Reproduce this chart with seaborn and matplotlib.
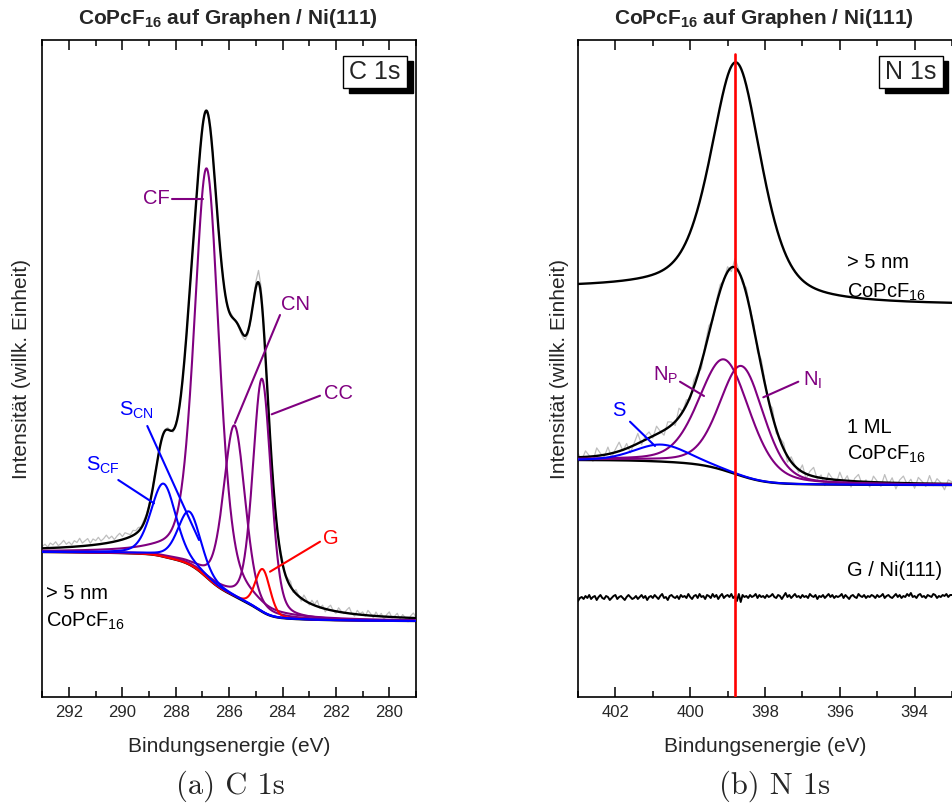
import numpy as np
import matplotlib
matplotlib.use("Agg")
import matplotlib.pyplot as plt
import seaborn as sns
from matplotlib.patches import Rectangle
from matplotlib.ticker import MultipleLocator

# ---------------------------------------------------------------- data
# C 1s panel: binding energy (eV), intensity (arb. units)
c_bg_low, c_bg_high = 76, 145
# envelope of the measured spectrum (fit sum)
c_env_center = [288.45, 287.50, 286.84, 285.68, 284.85]
c_env_height = [78, 50, 430, 162, 262]
c_env_fwhm = [0.80, 0.90, 1.25, 1.05, 0.85]
c_env_eta = [0.2, 0.5, 0.6, 0.5, 0.5]

c_comp_name = ["S_CF", "S_CN", "CF", "CN", "CC", "G"]
c_comp_center = [288.46, 287.49, 286.84, 285.80, 284.77, 284.74]
c_comp_height = [73, 53, 409, 171, 233, 43]
c_comp_fwhm = [1.10, 1.00, 1.10, 0.95, 0.80, 0.65]
c_comp_eta = [0.3, 0.3, 0.4, 0.3, 0.3, 0.2]
c_comp_color = ["#0000FF", "#0000FF", "#800080", "#800080", "#800080", "#FF0000"]

# measured-minus-fit residuals, 293 -> 279 eV in 0.1 eV steps
c_raw_resid = [2, 4, 1, 5, 3, 6, 2, 4, 7, 3, 5, 2, 6, 4, 8, 3, 5, 7, 2, 6,
               4, 7, 3, 5, 8, 4, 6, 2, 5, 7, 3, 6, 4, 2, 5, 3, 4, 1, 3, 2,
               2, 1, 3, 0, 2, -1, 1, 2, 0, -2, 1, -1, 2, 0, 1, -1, 0, 1, -1, 0,
               1, 0, -1, 2, 1, 0, -2, 1, 0, -1, 1, 2, 0, -1, -2, -3, -4, -3, -1, 1,
               6, 12, 9, 3, -2, 2, -1, 3, -2, 2, 4, -1, 3, 5, -2, 4, 1, -3, 5, 2,
               -2, 4, 1, 6, -1, 3, -3, 2, 5, 0, -2, 4, 1, -1, 3, 6, 0, -2, 4, 1,
               3, -1, 5, 2, -2, 4, 0, 3, -3, 2, 5, -1, 1, 4, -2, 3, 0, -4, 2, 5,
               1]

# N 1s panel
n_thick_bg_low, n_thick_bg_high = 392, 409
n_thick_center, n_thick_height, n_thick_fwhm, n_thick_eta = 398.77, 234, 1.6, 0.5

n_ml_bg_low, n_ml_bg_high = 212, 237
n_comp_name = ["S", "N_P", "N_I"]
n_comp_center = [400.77, 399.08, 398.62]
n_comp_height = [17, 111, 110]
n_comp_fwhm = [1.7, 1.6, 1.4]
n_comp_eta = [0.2, 0.3, 0.3]
n_comp_color = ["#0000FF", "#800080", "#800080"]

# 1 ML residuals, 403 -> 393 eV in 0.1 eV steps
n_ml_resid = [4, -3, 6, 1, -5, 8, 2, -2, 7, -4, 3, 9, -1, 5, -6, 2, 10, -3, 4, 6,
              -2, 8, 1, -5, 6, 3, -4, 9, 0, 5, -3, 7, 2, -6, 4, 8, -2, 3, 6, -1,
              5, -4, 9, 2, -3, 6, 1, 4, -5, 7, 3, -2, 8, -4, 2, 6, -6, 5, 1, -3,
              7, -5, 4, 9, -2, 3, -7, 6, 1, -4, 8, -1, 5, -6, 3, 7, -3, 2, -5, 6,
              1, -4, 8, -2, 5, -6, 3, 7, -1, 4, -5, 6, 2, -3, 8, -2, 5, 1, -6, 4, 2]

# G / Ni(111) reference spectrum, 403 -> 393 eV in 0.05 eV steps
n_gni_level = 99
n_gni_resid = [-3, 0, 1, -1, 2, 0, 3, -1, 1, 2, -2, 1, 3, 0, -1, 2, 1, -2, 0, 2,
               3, -1, 1, 2, 0, -2, 1, 3, 1, -1, 0, 2, -1, 1, 3, 0, 2, -2, 1, 2,
               0, 3, 1, -1, 2, 4, 0, 1, -2, 2, 3, 1, 0, 2, -1, 3, 1, 2, 0, 4,
               1, -1, 2, 3, 0, 4, 1, 2, -1, 3, 2, 0, 4, 1, 3, -1, 2, 4, 0, 2,
               3, 1, 4, 0, 2, -3, 4, -4, 3, 1, 2, 0, 3, 1, 2, 4, 0, 3, 1, 2,
               0, 3, 1, 2, 4, 1, 0, 3, 2, -1, 2, 5, 1, 3, 0, 2, 4, 1, 2, 0,
               3, 1, 2, 0, 4, 2, 1, 3, -1, 2, 1, 3, 0, 2, 4, 1, 3, 0, 2, 1,
               2, 4, 0, 3, 1, -1, 2, 3, 1, 0, 4, 2, 1, 3, 0, 2, 1, 3, 2, 0,
               3, 1, 2, 4, 0, 2, 3, 1, 0, 2, 4, 1, 3, 0, 2, 1, 4, 2, 5, 1,
               2, 0, 3, 4, 1, 2, 0, 3, 2, 1, 4, 3, 0, 2, 1, 3, 2, 4, 1, 3,
               3]
n_marker_energy = 398.8

title_text = r"CoPcF$_\mathbf{16}$ auf Graphen / Ni(111)"
xlabel_text = "Bindungsenergie (eV)"
ylabel_text = "Intensität (willk. Einheit)"


# ---------------------------------------------------------------- helpers
def pseudo_voigt(x, c, h, w, eta):
    d = (x - c) / w
    return h * (eta / (1 + 4 * d ** 2) + (1 - eta) * np.exp(-4 * np.log(2) * d ** 2))


def shirley(signal, low, high):
    cum = np.cumsum(signal)          # x ascending: low BE -> high BE
    return low + (high - low) * cum / cum[-1]


# ---------------------------------------------------------------- style
sns.set_theme(style="ticks")
plt.rcParams["font.family"] = ["Liberation Sans", "DejaVu Sans"]
plt.rcParams["mathtext.fontset"] = "custom"
plt.rcParams["mathtext.rm"] = "Liberation Sans"
plt.rcParams["mathtext.it"] = "Liberation Sans:italic"
plt.rcParams["mathtext.bf"] = "Liberation Sans:bold"

W, H = 952, 805
fig = plt.figure(figsize=(W / 100, H / 100), dpi=100)

AX_TOP, AX_BOT = 40, 697
axL_x0, axL_x1 = 42.3, 416.0
axR_x0, axR_x1 = 578.0, 952.0
axL = fig.add_axes([axL_x0 / W, 1 - AX_BOT / H, (axL_x1 - axL_x0) / W, (AX_BOT - AX_TOP) / H])
axR = fig.add_axes([axR_x0 / W, 1 - AX_BOT / H, (axR_x1 - axR_x0) / W, (AX_BOT - AX_TOP) / H])

LW_BLACK, LW_COMP = 1.7, 1.5


def line(ax, x, y, color, lw, z=2):
    sns.lineplot(x=x, y=y, ax=ax, color=color, linewidth=lw, legend=False,
                 estimator=None, zorder=z)


# ---------------------------------------------------------------- C 1s
xc = np.linspace(279.0, 293.0, 1401)
env = sum(pseudo_voigt(xc, c, h, w, e) for c, h, w, e in
          zip(c_env_center, c_env_height, c_env_fwhm, c_env_eta))
bg_c = shirley(env, c_bg_low, c_bg_high)
total_c = bg_c + env
raw_c = total_c[::10] + np.array(c_raw_resid[::-1])

line(axL, xc[::10], raw_c, "#BEBEBE", 0.9, 1)
line(axL, xc, total_c, "black", LW_BLACK, 2)
line(axL, xc, bg_c, "black", LW_BLACK, 2)
order = [2, 3, 4, 5, 0, 1]
for i in order:
    comp = pseudo_voigt(xc, c_comp_center[i], c_comp_height[i], c_comp_fwhm[i], c_comp_eta[i])
    line(axL, xc, bg_c + comp, c_comp_color[i], LW_COMP, 3)

# ---------------------------------------------------------------- N 1s
xn = np.linspace(393.0, 403.0, 1001)
thick = pseudo_voigt(xn, n_thick_center, n_thick_height, n_thick_fwhm, n_thick_eta)
thick_total = shirley(thick, n_thick_bg_low, n_thick_bg_high) + thick

comps_n = [pseudo_voigt(xn, c, h, w, e) for c, h, w, e in
           zip(n_comp_center, n_comp_height, n_comp_fwhm, n_comp_eta)]
sum_n = sum(comps_n)
bg_n = shirley(sum_n, n_ml_bg_low, n_ml_bg_high)
total_n = bg_n + sum_n
raw_n = total_n[::10] + np.array(n_ml_resid[::-1])
gni = n_gni_level + np.array(n_gni_resid[::-1])

line(axR, xn[::10], raw_n, "#BEBEBE", 0.9, 1)
line(axR, xn, thick_total, "black", LW_BLACK, 2)
line(axR, xn, total_n, "black", LW_BLACK, 2)
line(axR, xn, bg_n, "black", LW_BLACK, 2)
for i in [1, 2, 0]:
    line(axR, xn, bg_n + comps_n[i], n_comp_color[i], LW_COMP, 3)
line(axR, xn[::5], gni, "black", 1.4, 2)
axR.axvline(n_marker_energy, ymin=0, ymax=(AX_BOT - 54) / (AX_BOT - AX_TOP),
            color="#FF0000", linewidth=1.9, zorder=4)

# ---------------------------------------------------------------- axes styling
for ax, xlim in [(axL, (293, 279)), (axR, (403, 393))]:
    ax.set_xlim(*xlim)
    ax.set_ylim(0, AX_BOT - AX_TOP)
    ax.set_yticks([])
    ax.xaxis.set_major_locator(MultipleLocator(2))
    ax.xaxis.set_minor_locator(MultipleLocator(1))
    ax.tick_params(axis="x", which="both", direction="in", top=True, bottom=True,
                   labelsize=12, pad=6, width=1.1, color="black")
    ax.tick_params(axis="x", which="major", length=7)
    ax.tick_params(axis="x", which="minor", length=4)
    for s in ax.spines.values():
        s.set_linewidth(1.2)
        s.set_color("black")
    ax.set_xlabel(xlabel_text, fontsize=15)
    ax.set_ylabel(ylabel_text, fontsize=15)
    ax.set_facecolor("white")
axR.spines["right"].set_visible(False)

axL.xaxis.set_label_coords(0.5, -(737 - AX_BOT) / (AX_BOT - AX_TOP))
axR.xaxis.set_label_coords(0.5, -(737 - AX_BOT) / (AX_BOT - AX_TOP))
axL.yaxis.set_label_coords(-(axL_x0 - 31) / (axL_x1 - axL_x0), 0.5)
axR.yaxis.set_label_coords(-(axR_x0 - 569) / (axR_x1 - axR_x0), 0.5)

# titles
fig.text(228 / W, 1 - 19 / H, title_text, ha="center", va="center",
         fontsize=15, fontweight="bold")
fig.text(764 / W, 1 - 19 / H, title_text, ha="center", va="center",
         fontsize=15, fontweight="bold")


# shadowed label boxes
def shadow_box(ax, x0px, x1px, label, shadow=5.5):
    ax_w = ax.get_position().width * W
    ax_x0 = ax.get_position().x0 * W
    bx = (x0px - ax_x0) / ax_w
    bw = (x1px - x0px) / ax_w
    by = (AX_BOT - 88) / (AX_BOT - AX_TOP)
    bh = 32 / (AX_BOT - AX_TOP)
    sx = shadow / ax_w
    sy = shadow / (AX_BOT - AX_TOP)
    ax.add_patch(Rectangle((bx + sx, by - sy), bw, bh, transform=ax.transAxes,
                           facecolor="black", edgecolor="black", zorder=5, clip_on=False))
    ax.add_patch(Rectangle((bx, by), bw, bh, transform=ax.transAxes,
                           facecolor="white", edgecolor="black", linewidth=1.0, zorder=6,
                           clip_on=False))
    ax.text(bx + bw / 2, by + bh / 2, label, transform=ax.transAxes, ha="center",
            va="center", fontsize=18, zorder=7)


shadow_box(axL, 343, 407, "C 1s")
shadow_box(axR, 879.3, 942.7, "N 1s")


# pixel -> data helpers for annotation placement
def pL(px, py):
    return 293 - (px - axL_x0) / ((axL_x1 - axL_x0) / 14), AX_BOT - py


def pR(px, py):
    return 403 - (px - axR_x0) / ((axR_x1 - axR_x0) / 10), AX_BOT - py


def lead(ax, f, a, b, color):
    (x1, y1), (x2, y2) = f(*a), f(*b)
    ax.plot([x1, x2], [y1, y2], color=color, linewidth=1.5, zorder=5)


def label(ax, f, px, py, s, color="black", ha="left", size=14.5):
    x, y = f(px, py)
    ax.text(x, y, s, color=color, ha=ha, va="center", fontsize=size, zorder=6)


PUR, BLU, RED = "#800080", "#0000FF", "#FF0000"
label(axL, pL, 170, 199, "CF", PUR, ha="right")
lead(axL, pL, (171.7, 199.3), (203, 199.3), PUR)
label(axL, pL, 281, 304, "CN", PUR)
lead(axL, pL, (280, 315), (235, 423), PUR)
label(axL, pL, 324, 393, "CC", PUR)
lead(axL, pL, (320, 395.7), (271.7, 414.3), PUR)
label(axL, pL, 119, 410, r"S$_\mathrm{CN}$", BLU)
lead(axL, pL, (147.3, 426), (199, 540), BLU)
label(axL, pL, 86, 465, r"S$_\mathrm{CF}$", BLU)
lead(axL, pL, (118.3, 480), (154, 503.3), BLU)
label(axL, pL, 323, 538, "G", RED)
lead(axL, pL, (320, 541.7), (270, 571.7), RED)
label(axL, pL, 46, 593, "> 5 nm")
label(axL, pL, 46, 621, r"CoPcF$_\mathrm{16}$")

label(axR, pR, 847, 262, "> 5 nm")
label(axR, pR, 847, 292, r"CoPcF$_\mathrm{16}$")
label(axR, pR, 653, 375, r"N$_\mathrm{P}$", PUR)
lead(axR, pR, (680, 381.7), (704, 396), PUR)
label(axR, pR, 803, 380, r"N$_\mathrm{I}$", PUR)
lead(axR, pR, (798.3, 381.7), (763.3, 397.3), PUR)
label(axR, pR, 612, 410, "S", BLU)
lead(axR, pR, (630, 421.7), (655, 446), BLU)
label(axR, pR, 847, 427, "1 ML")
label(axR, pR, 847, 454, r"CoPcF$_\mathrm{16}$")
label(axR, pR, 847, 570, "G / Ni(111)")

# sub-figure captions
fig.text(230 / W, 1 - 786 / H, "(a) C 1s", ha="center", va="center",
         fontsize=22, family="cmr10")
fig.text(775 / W, 1 - 786 / H, "(b) N 1s", ha="center", va="center",
         fontsize=22, family="cmr10")

fig.savefig("out.png", dpi=100, facecolor="white")
